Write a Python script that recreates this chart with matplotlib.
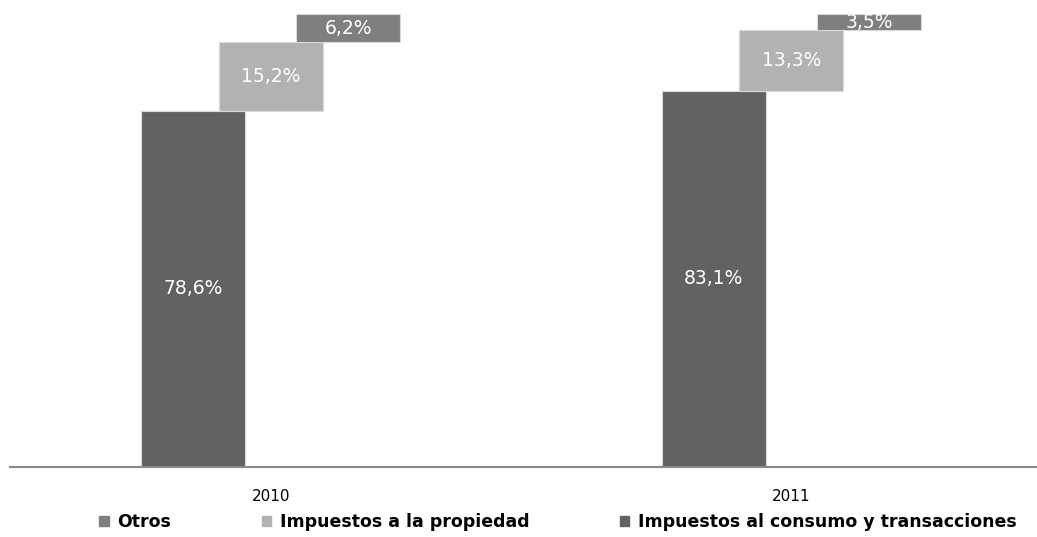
import numpy as np
import matplotlib.pyplot as plt

years = ["2010", "2011"]
consumo = [78.6, 83.1]
propiedad = [15.2, 13.3]
otros = [6.2, 3.5]

c_consumo = "#626262"
c_propiedad = "#b2b2b2"
c_otros = "#7f7f7f"

x = np.arange(len(years))
w = 0.2
d = 0.149

fig = plt.figure(figsize=(10.37, 5.37), dpi=100)
ax = fig.add_axes([10 / 1037, 70 / 537, 1027 / 1037, 467 / 537])

b1 = ax.bar(x - d, consumo, w, color=c_consumo, edgecolor="#d9d9d9", linewidth=0.8)
bot2 = np.array(consumo)
b2 = ax.bar(x, propiedad, w, bottom=bot2, color=c_propiedad, edgecolor="#d9d9d9", linewidth=0.8)
bot3 = bot2 + np.array(propiedad)
b3 = ax.bar(x + d, otros, w, bottom=bot3, color=c_otros, edgecolor="#d9d9d9", linewidth=0.8)

for bars, vals, bots in [(b1, consumo, np.zeros(2)), (b2, propiedad, bot2), (b3, otros, bot3)]:
    for r, v, b in zip(bars, vals, bots):
        ax.text(r.get_x() + r.get_width() / 2, b + v / 2, ("%.1f%%" % v).replace(".", ","),
                ha="center", va="center", color="white", fontsize=13.5)

ax.set_xlim(-0.501, 1.472)
ax.set_ylim(0, 103.1)
ax.set_xticks(x)
ax.set_xticklabels(years, fontsize=11)
ax.tick_params(axis="x", length=0, pad=16)
ax.set_yticks([])
for s in ["top", "right", "left"]:
    ax.spines[s].set_visible(False)
ax.spines["bottom"].set_color("#8a8a8a")
ax.spines["bottom"].set_linewidth(1.5)

handles = [plt.Rectangle((0, 0), 1, 1, color=c) for c in [c_otros, c_propiedad, c_consumo]]
labels = ["Otros", "Impuestos a la propiedad", "Impuestos al consumo y transacciones"]
fig.legend(handles, labels, loc="center", bbox_to_anchor=(558 / 1037, 1 - 522 / 537), ncol=3,
           frameon=False, prop={"weight": "bold", "size": 12.5}, handlelength=0.55, handleheight=0.55,
           handletextpad=0.5, columnspacing=5.2)

fig.savefig("out.png", dpi=100)
